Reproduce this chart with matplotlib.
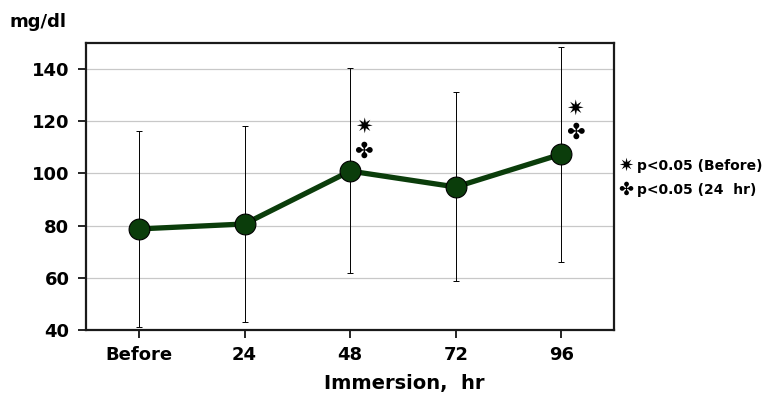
import numpy as np
import matplotlib
matplotlib.use("Agg")
from matplotlib import pyplot as plt

# data
labels = ["Before", "24", "48", "72", "96"]
means = [78.7, 80.6, 100.9, 94.8, 107.4]
upper = [116.2, 118.2, 140.4, 131.2, 148.4]
lower = [41.1, 43.0, 61.8, 58.8, 66.0]
star_idx = [2, 4]
star_y = [117.8, 125.0]
club_y = [108.2, 115.5]

plt.rcParams['font.family'] = ['DejaVu Sans']

fig = plt.figure(figsize=(7.62, 3.95), dpi=100)
ax = fig.add_axes([0.113, 0.165, 0.693, 0.726])

x = np.arange(len(labels))
err = [np.array(means) - np.array(lower), np.array(upper) - np.array(means)]
ax.errorbar(x, means, yerr=err, fmt='none', ecolor='black', elinewidth=0.7,
            capsize=2.5, capthick=0.7, zorder=2)
ax.plot(x, means, color='#0b3d0b', lw=3.8, marker='o', ms=15,
        markerfacecolor='#0b3d0b', markeredgecolor='black', markeredgewidth=0.8, zorder=3)

for i, sy, cy in zip(star_idx, star_y, club_y):
    ax.text(i + 0.13, sy, "\u2737", ha='center', va='center', fontsize=15,
            fontweight='bold', zorder=4)
    ax.text(i + 0.13, cy, "\u2724", ha='center', va='center', fontsize=16,
            fontweight='bold', zorder=4)

ax.set_xlim(-0.5, 4.5)
ax.set_ylim(40, 150)
ax.set_yticks([40, 60, 80, 100, 120, 140])
ax.set_xticks(x)
ax.set_xticklabels(labels)
ax.yaxis.grid(True, color='#c8c8c8', lw=0.9)
ax.set_axisbelow(True)
ax.tick_params(axis='both', direction='out', length=6, width=1.2, labelsize=13, pad=6)
for lab in ax.get_xticklabels() + ax.get_yticklabels():
    lab.set_fontweight('bold')
for s in ['left', 'bottom', 'top', 'right']:
    ax.spines[s].set_linewidth(1.6)
    ax.spines[s].set_color('#1a1a1a')

fig.text(0.530, 0.030, "Immersion,  hr", fontsize=14, fontweight='bold',
         ha='center', va='center')
fig.text(0.013, 0.945, "mg/dl", fontsize=13, fontweight='bold', ha='left', va='center')

fig.text(0.812, 0.580, "\u2737", fontsize=13, fontweight='bold', ha='left', va='center')
fig.text(0.836, 0.580, "p<0.05 (Before)", fontsize=10, fontweight='bold', ha='left', va='center')
fig.text(0.812, 0.519, "\u2724", fontsize=13, fontweight='bold', ha='left', va='center')
fig.text(0.836, 0.519, "p<0.05 (24  hr)", fontsize=10, fontweight='bold', ha='left', va='center')

fig.savefig("out.png", dpi=100)
